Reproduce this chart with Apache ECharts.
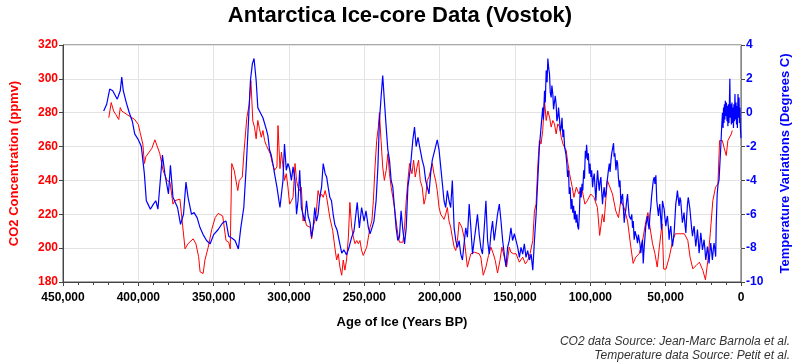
<!DOCTYPE html>
<html>
<head>
<meta charset="utf-8">
<script src="https://cdn.jsdelivr.net/npm/echarts@6/dist/echarts.min.js"></script>
<style>html,body{margin:0;padding:0;background:#fff}#c{width:800px;height:364px}</style>
</head>
<body>
<div id="c"></div>
<script>
// [age in thousands of years BP, CO2 ppmv]
const co2Points = [[419.6,277],[418,286],[416.4,281],[415,279],[413,276],[412,283],[411,281],[406,278],[402.4,276],[400,273],[399,269],[397,261.5],[396,250],[395,254],[391,259],[389,264],[385.8,256],[383.6,246],[381,240],[379,239],[377,226],[375.8,228],[372.4,229],[369,199.6],[367,202.6],[363.6,205.5],[361.8,202.6],[360,195],[359,186],[357,185],[355.8,193],[353.6,200.6],[351.3,211],[349,218],[347,220.5],[344,219],[341.8,204.5],[340,203.5],[339,199.6],[338,250],[336.4,246],[334,234],[333,240],[331,242],[329.8,257.7],[328,277],[326.4,285],[325.3,299],[324,275],[322.9,271.5],[321.8,264.6],[320.7,275.4],[319.6,270.5],[318.4,265.5],[317.3,269.5],[316.2,263.6],[315,260.6],[314,259.6],[312.4,255.7],[311,250],[309.6,246],[308,248],[307.3,272.4],[306,247],[305,256.7],[304,255.7],[303,240],[301.8,244],[300.7,236],[299.6,226],[298.4,228],[297.3,230],[296,250],[295,240],[294,236],[292.9,234],[291.8,236],[290.7,216],[289.6,218],[288.4,213.4],[287.3,212.4],[286,212.4],[285,205.5],[284,212.4],[282.9,216],[281.8,222],[280.7,234],[279.6,230],[278.4,232],[277.3,230],[276,234],[275,230],[272.9,218],[271,210.4],[269.6,200.6],[268.4,193],[267.3,196.7],[266.2,188.8],[265,184],[264,193],[262.9,187],[261.8,193],[260.6,206.5],[259.6,227],[258.4,212.4],[257.3,206.5],[256.2,202.6],[255,204.5],[254,202.6],[252.9,204.5],[251.8,198.6],[250.7,195.7],[249.6,194.7],[248.4,200.6],[247.3,206.5],[246.2,212.4],[245,216],[244,228],[242.9,248],[241.8,263.6],[240.7,271.5],[240,280],[238.9,263.6],[237.8,248],[236.7,240],[235.5,246],[234.4,255.7],[233.3,244],[232.2,236],[231.1,230],[230,224],[228.9,216],[227.8,208.5],[226.7,203.5],[225.6,204.5],[224.4,203.5],[223.3,212.4],[222.2,228],[221.1,240],[220,250],[218.4,244],[217.3,252],[216.2,242],[215,248],[214,252],[212.9,240],[211.6,236],[210.4,226],[209.3,230],[208.2,240],[207.1,242],[206,246],[204.9,250],[203.8,244],[202.7,240],[201.6,234],[200.4,224],[199.3,220],[198.2,220],[197.1,217],[196,220],[194.9,224],[193.8,216],[192.7,212.4],[191.6,206.5],[190.4,200.6],[189.3,198.6],[188.2,204.5],[187.1,215.4],[185.3,212.4],[183.8,206.5],[181.6,188.8],[179.3,196.7],[177.1,197.6],[173.8,196.7],[172.7,194.7],[171.1,184],[169.3,188.8],[167.6,195.6],[166,200.6],[164.4,196.7],[163.1,192.7],[161.6,185.3],[160,192.7],[158.7,200.6],[157.1,194.7],[155.6,188.8],[153.8,200.6],[152.7,197.6],[151.1,196.7],[149.3,196.7],[147.1,191.7],[144.9,194.7],[143.1,190.7],[141.6,192.7],[140,196.7],[138.2,204.5],[137.1,222],[136,226],[134.9,248],[133.8,263.6],[132.7,261.6],[131.6,269.5],[130.4,287],[129.3,275.4],[128.2,281],[127.1,277.4],[126,271.5],[124.9,275.4],[123.8,273.4],[122.7,267.5],[121.6,273.4],[120.4,271.5],[119.3,265.5],[118.2,261.6],[117.1,259.6],[116,257.7],[114.9,250],[113.8,244],[112,236],[110.9,230],[109.3,236],[107.6,232],[105.8,236],[103.6,226],[102,228],[99.8,232],[97.6,230],[95.3,224],[93.8,207.5],[92,220],[90.9,215.4],[88.7,240],[87.6,240],[85.3,232],[83.1,222],[81.3,218],[79.8,228],[77.6,224],[75.3,216],[73.1,200.6],[71.6,191],[69.8,194.7],[67.6,196.7],[65.3,204.5],[63.1,216],[61.8,221],[60.4,212.4],[58.7,202.6],[57.1,196.7],[55.6,188.8],[54.2,200.6],[52.4,214.4],[51.3,187.6],[49.8,187.6],[47.6,194.7],[45.3,204.5],[43.6,208.5],[42,208.5],[39.8,208.5],[37.6,208.5],[35.3,204.5],[33.8,194.7],[32,187.8],[29.8,189.7],[27.6,191.7],[25.3,186.8],[23.6,181.3],[22,192.7],[20.4,208.5],[18.7,228],[16.9,236],[15.3,238],[14.2,263.6],[12.4,263.6],[11.3,259.6],[9.8,254.7],[8.7,263.6],[6.4,267.5],[5.8,269.5]];

// [age in thousands of years BP, temperature variation in degrees C]
const tempPoints = [[423,0.1],[421,0.5],[419,1.4],[417,1.3],[414,0.8],[412,1.3],[411,2.1],[410,1.3],[408,0.6],[406,0],[404,-0.5],[402.4,-1.25],[400,-1.6],[398,-2],[397,-2.8],[396,-3.6],[394.7,-5.2],[393.6,-5.4],[392,-5.7],[390,-5.4],[388.4,-5.2],[387,-5.7],[385.8,-4.4],[384,-2.5],[382.4,-3.6],[380,-4.8],[378.7,-3.1],[377,-5],[374,-5.6],[372,-6.6],[370,-6],[368.4,-4.1],[367,-5],[364.7,-6],[363,-5.9],[361,-6.2],[359,-6.8],[357,-7.2],[354.7,-7.55],[352.4,-7.75],[350,-7.2],[347,-6.9],[344,-6.5],[341.8,-6.4],[340,-7.3],[338,-7.4],[335.8,-7.55],[333.6,-8.05],[332,-6.8],[330,-5.6],[328.4,-3.2],[327,-0.7],[325.6,1.9],[324.3,2.9],[323.2,3.2],[321.8,1.9],[320.7,0.3],[319.6,0.1],[318.4,0.2],[317.3,-0.3],[316.2,-0.4],[315,-1],[314,-1.35],[312.9,-2.2],[311.8,-2.5],[310.7,-3],[309.6,-3.6],[308,-4.4],[306,-5.6],[305,-4.8],[304,-4],[303,-1.85],[301.8,-3.4],[300.7,-3],[299.6,-3.3],[298.4,-4],[297.3,-3.2],[296,-4],[295,-6],[294,-5.2],[292.9,-3.4],[291.8,-5.6],[290.7,-6],[289.6,-6.4],[288.4,-5.2],[287.3,-6.1],[286,-6.5],[285,-7.35],[284,-6.8],[282.9,-5.6],[281.8,-6.4],[280.7,-6],[279.6,-5],[278.4,-4.4],[277.3,-3],[276,-3.6],[275,-3.8],[274,-4.4],[272.9,-5],[271.8,-5.2],[270.7,-6],[269.6,-6.6],[268,-6.96],[266.7,-7.55],[265,-8.3],[263.6,-8.1],[261.8,-8.4],[260,-7.9],[258.4,-7.35],[256.9,-7],[255.6,-6],[254.7,-5.3],[253.3,-6.8],[251.8,-5.6],[250.2,-6.4],[248.9,-5.8],[247.3,-6.8],[246.2,-7.15],[244.9,-6.8],[243.6,-6.4],[242.2,-5.2],[241,-3.2],[240,-0.5],[238.9,0.9],[237.8,2.2],[236.7,0.7],[235.5,-0.85],[234.4,-2.2],[233.3,-2.8],[232.2,-4],[231.1,-4.4],[230,-5.6],[228.9,-6.8],[227.8,-7.55],[226.7,-7.35],[225.6,-5.8],[224.4,-6.96],[223.3,-7.75],[222.2,-6.8],[221.1,-4.4],[219.6,-3.4],[217.8,-1.6],[216.7,-0.85],[215.6,-2],[214.4,-1.45],[213.3,-2],[212.7,-2],[211.6,-2.8],[210.4,-3.2],[209.3,-4],[208.2,-4.4],[207.1,-4.8],[206,-3.6],[204.9,-2.8],[203.8,-2.4],[202.7,-2],[201.6,-1.6],[200.4,-2.2],[199.3,-3.2],[198.2,-4.2],[197.1,-5.2],[196,-5.6],[194.9,-4.6],[193.8,-5.2],[192.7,-5.6],[191.6,-4],[190.4,-6.8],[189.3,-7.55],[188.2,-7.95],[187.1,-7.55],[186,-8.35],[184.9,-8.7],[183.8,-7.75],[182.7,-6.8],[181.6,-7.35],[180.4,-5.4],[179.3,-6.8],[178.2,-8.35],[177.1,-7.55],[176,-6.8],[174.9,-6],[173.8,-7.15],[172.7,-7.95],[171.6,-8.35],[170.4,-6.8],[169.3,-5.2],[168.2,-7.55],[167.1,-8.35],[166,-7.15],[164.9,-6.4],[163.8,-7.55],[162.7,-6.8],[161.6,-6],[160.4,-5.4],[159.3,-6.4],[158.2,-7.55],[157.1,-8.35],[156,-9.1],[154.9,-7.95],[153.8,-7.55],[152.7,-6.8],[151.6,-7.55],[150.4,-7.15],[149.3,-7.55],[148.2,-7.95],[147.1,-8.55],[146,-7.95],[144.9,-8.35],[143.8,-7.75],[142.7,-8.55],[141.6,-8.15],[140.4,-8.7],[139.3,-8.35],[138.2,-9.3],[137.1,-7.55],[136,-6],[134.9,-4],[133.8,-2],[132.7,-0.85],[131.6,0.3],[131.1,-0.4],[130.4,1.3],[129.9,0.6],[129.3,2.5],[128.7,1.8],[128.2,3.2],[127.6,2.6],[127.1,2.3],[126.6,1.2],[126,0.9],[125.5,1.6],[124.9,1.1],[124.4,0.2],[123.8,0.3],[123.3,1.0],[122.7,0.5],[122.2,-0.5],[121.6,-0.26],[121.1,0.3],[120.4,-0.46],[119.9,-1.1],[119.3,-0.85],[118.8,-0.3],[118.2,-1.45],[117.7,-1.0],[117.1,-2],[116.2,-2.45],[115.6,-3.0],[115.1,-3.8],[114.5,-3.4],[114,-4.8],[113.4,-4.4],[112.8,-5.7],[112.2,-5.1],[111.7,-5.9],[111.1,-5.5],[110.6,-6.3],[110,-5.8],[109.5,-6.5],[108.9,-6.0],[108.4,-6.7],[107.8,-6.9],[107.2,-5.8],[106.7,-4.4],[106.1,-5.0],[105.5,-4.2],[105,-4.6],[104.4,-3.4],[103.9,-3.9],[103.3,-2.25],[102.9,-2.7],[102.5,-1.9],[101.8,-2.8],[101.3,-2.4],[100.7,-3.6],[100.2,-3.0],[99.6,-3.8],[99.1,-3.4],[98.5,-4.4],[98,-3.9],[97.4,-3.6],[96.9,-4.4],[96.3,-5.2],[95.8,-4.2],[95.2,-3.4],[94.7,-4.0],[94.1,-4.6],[93.6,-4.1],[93,-3.8],[92.5,-4.6],[91.9,-5.4],[91.4,-4.8],[90.8,-4.4],[90.3,-5.0],[89.7,-4.8],[89.1,-4.2],[88.5,-3.8],[88,-3.4],[87.4,-3],[86.9,-3.5],[86.3,-2.8],[85.8,-2.4],[85.2,-2.1],[84.6,-1.8],[84.2,-2.6],[83.7,-2.4],[83.3,-3.0],[83,-3.4],[82.4,-2.8],[81.9,-3],[81.4,-3.8],[80.8,-4.4],[80.3,-4.0],[79.7,-5.4],[79.2,-5.0],[78.6,-4.8],[78.1,-5.6],[77.5,-6.5],[77,-6.0],[76.4,-5.7],[75.9,-5.2],[75.3,-4.8],[74.8,-5.5],[74.2,-6.1],[73.6,-6.0],[73.1,-6.3],[72.5,-6.0],[72,-6.8],[71.5,-6.4],[70.9,-7.5],[70.3,-7.0],[69.8,-6.9],[69.2,-7.4],[68.7,-7.7],[68.1,-7.2],[67.6,-7.1],[67,-7.8],[66.5,-8.3],[65.9,-7.8],[65.4,-7.5],[64.9,-8.9],[64.3,-8.0],[63.7,-7.3],[63.2,-6.7],[62.6,-6.4],[62.1,-6.1],[61.5,-6.6],[61,-6.9],[60.4,-6.0],[59.8,-5.5],[59.3,-4.9],[58.7,-4.4],[58.2,-4.0],[57.6,-3.8],[57.1,-4.2],[56.5,-3.7],[55.9,-5.2],[55.4,-5.6],[54.8,-6.1],[54.4,-5.7],[53.9,-5.4],[53.3,-6.2],[52.8,-6.9],[52.1,-5.2],[51.5,-5.5],[51,-5.7],[50.5,-6.2],[49.9,-6.7],[49.3,-6.3],[48.8,-6.1],[48.2,-6.8],[47.7,-7.5],[47.2,-7.0],[46.6,-6.7],[46,-7.4],[45.5,-7.9],[44.9,-7.5],[44.4,-7.1],[43.8,-6.2],[43.3,-5.4],[42.7,-5.0],[42.2,-4.6],[41.6,-5.1],[41.1,-5.5],[40.5,-5.0],[40,-5.2],[39.4,-5.9],[38.9,-6.5],[38.3,-6.2],[37.8,-5.9],[37.2,-6.6],[36.6,-7.1],[36.1,-6.2],[35.5,-5.4],[35,-5.0],[34.4,-5],[33.9,-5.7],[33.3,-6.3],[32.7,-6.9],[32.2,-7.3],[31.6,-6.9],[31.1,-6.7],[30.5,-7.4],[30,-7.9],[29.4,-7.4],[28.9,-6.9],[28.3,-7.6],[27.8,-8.3],[27.2,-7.7],[26.7,-7.1],[26.1,-7.6],[25.6,-8.1],[25,-7.8],[24.5,-7.5],[23.9,-8.1],[23.4,-8.7],[22.8,-8.3],[22.3,-7.9],[21.7,-8.4],[21.2,-8.9],[20.6,-8.2],[20.1,-7.7],[19.5,-8.2],[19,-8.7],[18.4,-8.1],[17.9,-7.7],[17.3,-8.1],[16.8,-8.5],[16.4,-6.5],[15.8,-4.8],[15.2,-4.2],[14.6,-4.0],[14,-3.0],[13.4,-2.0],[12.8,-0.8],[12.3,0.0],[11.9,-0.9],[11.6,0.3],[11.3,-0.6],[11,0.5],[10.7,-0.4],[10.4,0.7],[10,-0.2],[9.7,0.6],[9.3,-0.5],[9,0.4],[8.7,-0.8],[8.4,0.5],[8,-0.6],[7.7,0.6],[7.4,2.0],[7.1,-0.3],[6.7,0.5],[6.4,-0.7],[6,0.6],[5.7,-0.6],[5.3,0.3],[5,-0.9],[4.7,0.5],[4.4,-0.5],[4,1.1],[3.7,-0.4],[3.3,0.6],[3,-0.7],[2.7,0.4],[2.4,-0.9],[2,1.1],[1.7,-0.3],[1.3,0.9],[1,-0.6],[0.7,0.3],[0.4,-0.9],[0,-1.5]];

const co2Data = co2Points.map(p => [p[0] * 1000, p[1]]);
const tempData = tempPoints.map(p => [p[0] * 1000, p[1]]);

const FONT = '"Liberation Sans", Arial, sans-serif';
const chart = echarts.init(document.getElementById('c'), null, {renderer:'canvas'});
chart.setOption({
  animation:false,
  backgroundColor:'#fff',
  title:{text:'Antarctica Ice-core Data (Vostok)', left:'center', top:0,
    textStyle:{fontFamily:FONT,fontSize:22,fontWeight:'bold',color:'#000'}},
  grid:{left:63,right:58,top:45,bottom:82,show:true,borderColor:'#555',borderWidth:1,backgroundColor:'transparent'},
  xAxis:{type:'value', inverse:true, min:0, max:450000, interval:50000,
    name:'Age of Ice (Years BP)', nameLocation:'middle', nameGap:34,
    nameTextStyle:{fontFamily:FONT,fontSize:13,fontWeight:'bold',color:'#000'},
    axisLine:{show:true,onZero:false,lineStyle:{color:'#444',width:1}},
    axisTick:{show:true,length:4,inside:false,lineStyle:{color:'#444'}},
    minorTick:{show:true,splitNumber:5,length:3,lineStyle:{color:'#444'}},
    splitLine:{show:true,lineStyle:{color:'#e3e3e3',width:1}},
    axisLabel:{fontFamily:FONT,fontSize:12,fontWeight:'bold',color:'#000',margin:10,
      formatter:v=>v.toLocaleString('en-US')}},
  yAxis:[
    {type:'value', min:180, max:320, interval:20, position:'left',
     name:'CO2 Concentration (ppmv)', nameLocation:'middle', nameGap:42,
     nameTextStyle:{fontFamily:FONT,fontSize:13,fontWeight:'bold',color:'#ff0000'},
     axisLine:{show:true,onZero:false,lineStyle:{color:'#444'}},
     axisTick:{show:true,length:4,lineStyle:{color:'#444'}},
     splitLine:{show:true,lineStyle:{color:'#e3e3e3'}},
     axisLabel:{fontFamily:FONT,fontSize:12,fontWeight:'bold',color:'#ff0000',margin:5}},
    {type:'value', min:-10, max:4, interval:2, position:'right',
     name:'Temperature Variations (Degrees C)', nameLocation:'middle', nameGap:38,
     nameTextStyle:{fontFamily:FONT,fontSize:13,fontWeight:'bold',color:'#0000ff'},
     axisLine:{show:true,onZero:false,lineStyle:{color:'#888'}},
     axisTick:{show:true,length:4,lineStyle:{color:'#444'}},
     splitLine:{show:false},
     axisLabel:{fontFamily:FONT,fontSize:12,fontWeight:'bold',color:'#0000ff',margin:5}}
  ],
  series:[
    {type:'line', name:'CO2', yAxisIndex:0, data:co2Data, showSymbol:false, symbol:'none',
     lineStyle:{color:'#ff0000',width:1}, z:2},
    {type:'line', name:'Temp', yAxisIndex:1, data:tempData, showSymbol:false, symbol:'none',
     lineStyle:{color:'#0000ff',width:1.2}, z:3}
  ],
  graphic:[
    {type:'text', right:10, top:336, style:{text:'CO2 data Source: Jean-Marc Barnola et al.', font:'italic 12px "Liberation Sans", Arial, sans-serif', fill:'#333', textAlign:'right'}},
    {type:'text', right:10, top:350, style:{text:'Temperature data Source: Petit et al.', font:'italic 12px "Liberation Sans", Arial, sans-serif', fill:'#333', textAlign:'right'}}
  ]
});
</script>
</body>
</html>
